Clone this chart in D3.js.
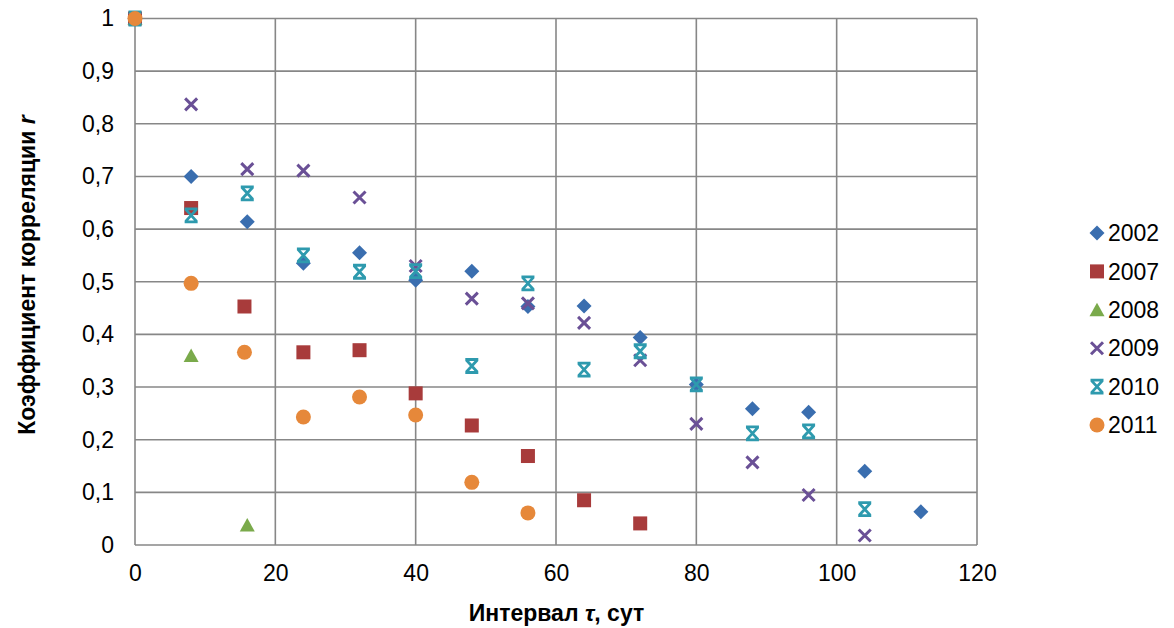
<!DOCTYPE html>
<html><head><meta charset="utf-8">
<script src="https://cdn.jsdelivr.net/npm/d3@7"></script>
<style>
html,body{margin:0;padding:0;background:#fff;}
svg{display:block;font-family:"Liberation Sans",Arial,sans-serif;}
</style></head>
<body><svg id="chart" width="1174" height="628"></svg>
<script>
const xTicks = [0,20,40,60,80,100,120];
const yTicks = [0,0.1,0.2,0.3,0.4,0.5,0.6,0.7,0.8,0.9,1];

const x2002 = [0,8,16,24,32,40,48,56,64,72,80,88,96,104,112];
const y2002 = [1,0.700,0.614,0.535,0.555,0.503,0.520,0.453,0.454,0.394,0.305,0.259,0.252,0.140,0.063];
const x2007 = [0,8,15.6,24,32,40,48,56,64,72];
const y2007 = [1,0.640,0.453,0.366,0.370,0.288,0.227,0.169,0.085,0.041];
const x2008 = [0,8,16];
const y2008 = [1,0.360,0.038];
const x2009 = [0,8,16,24,32,40,48,56,64,72,80,88,96,104];
const y2009 = [1,0.837,0.714,0.711,0.660,0.530,0.468,0.459,0.422,0.351,0.230,0.157,0.095,0.018];
const x2010 = [0,8,16,24,32,40,48,56,64,72,80,88,96,104];
const y2010 = [1,0.626,0.668,0.550,0.519,0.520,0.340,0.497,0.333,0.368,0.305,0.212,0.216,0.068];
const x2011 = [0,8,15.6,24,32,40,48,56];
const y2011 = [1,0.497,0.366,0.243,0.281,0.247,0.119,0.061];

const seriesNames = ["2002","2007","2008","2009","2010","2011"];
const seriesX = [x2002,x2007,x2008,x2009,x2010,x2011];
const seriesY = [y2002,y2007,y2008,y2009,y2010,y2011];
const colors = ["#3A6EAF","#A83B3B","#7AAA4B","#6A5096","#2E9AAE","#E6883A"];
const shapes = ["diamond","square","triangle","x","star","circle"];

const svg = d3.select("#chart");
const L = 135, R = 977, T = 18.5, B = 545;
const xs = d3.scaleLinear().domain([0,120]).range([L,R]);
const ys = d3.scaleLinear().domain([0,1]).range([B,T]);
const grid = "#878787";

// grid
const g = svg.append("g");
g.selectAll("line.h").data(yTicks).join("line")
  .attr("x1",L).attr("x2",R).attr("y1",d=>ys(d)).attr("y2",d=>ys(d))
  .attr("stroke",grid).attr("stroke-width",1.6);
g.selectAll("line.v").data(xTicks).join("line")
  .attr("y1",T).attr("y2",B).attr("x1",d=>xs(d)).attr("x2",d=>xs(d))
  .attr("stroke",grid).attr("stroke-width",1.6);

// axes labels via d3 axes
const fmt = d => d===0||d===1 ? String(d) : d3.format(".1f")(d).replace(".",",");
const ya = svg.append("g").attr("transform",`translate(${L},0)`)
  .call(d3.axisLeft(ys).tickValues(yTicks).tickFormat(fmt).tickSize(0).tickPadding(21));
ya.select(".domain").remove();
ya.selectAll("text").attr("font-size",23).attr("font-family","Liberation Sans, Arial, sans-serif").attr("fill","#000");
const xa = svg.append("g").attr("transform",`translate(0,${B})`)
  .call(d3.axisBottom(xs).tickValues(xTicks).tickFormat(d3.format("d")).tickSize(0).tickPadding(20));
xa.select(".domain").remove();
xa.selectAll("text").attr("font-size",23).attr("font-family","Liberation Sans, Arial, sans-serif").attr("fill","#000");

// titles
const yt = svg.append("text").attr("transform","translate(35,275) rotate(-90)")
  .attr("text-anchor","middle").attr("font-weight","bold").attr("font-size",23).attr("fill","#000");
yt.append("tspan").text("Коэффициент корреляции ");
yt.append("tspan").attr("font-style","italic").text("r");
const xt = svg.append("text").attr("x",556.5).attr("y",621)
  .attr("text-anchor","middle").attr("font-weight","bold").attr("font-size",23).attr("fill","#000");
xt.append("tspan").text("Интервал ");
xt.append("tspan").attr("font-style","italic").text("τ");
xt.append("tspan").text(", сут");

function marker(sel, shape, color){
  if(shape==="diamond"){
    sel.append("path").attr("d","M0,-7.5L7.5,0L0,7.5L-7.5,0Z").attr("fill",color);
  } else if(shape==="square"){
    sel.append("rect").attr("x",-7).attr("y",-7).attr("width",14).attr("height",14).attr("fill",color);
  } else if(shape==="triangle"){
    sel.append("path").attr("d","M0,-7L7.5,6.5L-7.5,6.5Z").attr("fill",color);
  } else if(shape==="circle"){
    sel.append("circle").attr("r",7.5).attr("fill",color);
  } else if(shape==="x"){
    sel.append("path").attr("d","M-6,-6L6,6M6,-6L-6,6").attr("stroke",color).attr("stroke-width",3).attr("fill","none");
  } else if(shape==="star"){
    sel.append("path").attr("d","M-5.5,-6L5.5,6M5.5,-6L-5.5,6M-6.5,-6.5L6.5,-6.5M-6.5,6.5L6.5,6.5").attr("stroke",color).attr("stroke-width",2.8).attr("fill","none");
  }
}

seriesNames.forEach((name,i)=>{
  const data = seriesX[i].map((xv,j)=>({x:xv,y:seriesY[i][j]}));
  const sg = svg.append("g");
  sg.selectAll("g").data(data).join("g")
    .attr("transform",d=>`translate(${xs(d.x)},${ys(d.y)})`)
    .each(function(){ marker(d3.select(this), shapes[i], colors[i]); });
});

// legend
const lg = svg.append("g");
seriesNames.forEach((name,i)=>{
  const yy = 233 + i*38.4;
  const m = lg.append("g").attr("transform",`translate(1097,${yy})`);
  marker(m, shapes[i], colors[i]);
  lg.append("text").attr("x",1108).attr("y",yy).attr("dy","0.36em")
    .attr("font-size",23).attr("fill","#000").text(name);
});
</script></body></html>
